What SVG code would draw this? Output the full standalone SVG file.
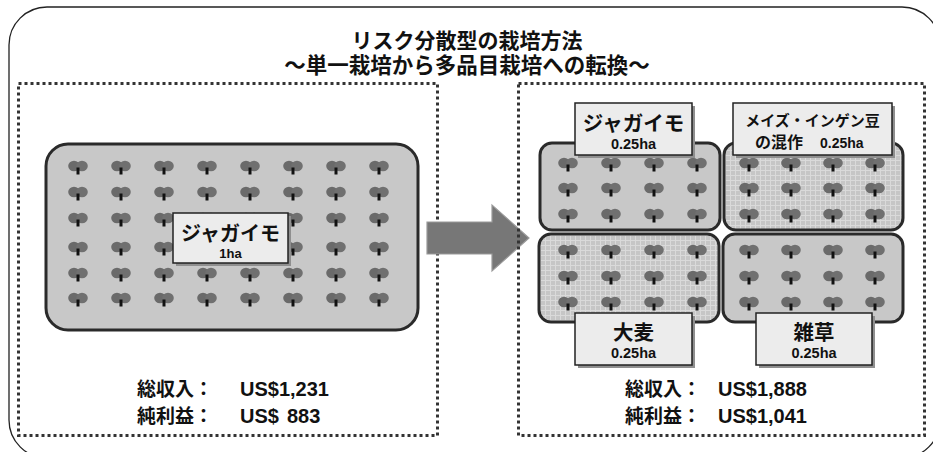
<svg xmlns="http://www.w3.org/2000/svg" width="933" height="452" viewBox="0 0 933 452">
  <style>
    .frame { fill: #ffffff; stroke: #222; stroke-width: 1.3; }
    .dotted { fill: none; stroke: #333; stroke-width: 3; stroke-dasharray: 3 3; }
    .field { fill: #c8c8c8; stroke: #2a2a2a; stroke-width: 3; }
    .field-grid { fill: url(#grid); stroke: #2a2a2a; stroke-width: 3; }
    .tag { fill: #ececec; stroke: #222; stroke-width: 1.5; }
    .tag-shadow { fill: #8f8f8f; }
    .jp { font-family: "Noto Sans CJK JP", "Liberation Sans", sans-serif; font-weight: 700; fill: #111; }
    .lat { font-family: "Liberation Sans", "Noto Sans CJK JP", sans-serif; font-weight: 700; fill: #111; }
    .mid { text-anchor: middle; }
  </style>
  <defs>
    <!-- lighter mesh used on the mixed-crop and barley plots -->
    <pattern id="grid" width="5" height="5" patternUnits="userSpaceOnUse">
      <rect width="5" height="5" fill="#c6c6c6"/>
      <path d="M0 0.5H5M0.5 0V5" stroke="#dadada" stroke-width="1"/>
    </pattern>
    <!-- one plant: two-lobed leaf with a dark stem -->
    <g id="plant">
      <ellipse cx="-4" cy="0" rx="5.8" ry="5.2" fill="#6a6a6a"/>
      <ellipse cx="4" cy="0" rx="5.8" ry="5.2" fill="#707070"/>
      <rect x="-1.5" y="1.5" width="3" height="7" fill="#111"/>
    </g>
  </defs>

  <!-- outer rounded frame -->
  <rect class="frame" x="9" y="7" width="931" height="451" rx="38"/>

  <!-- heading -->
  <g id="title">
    <text class="jp mid" x="467" y="48" font-size="21">リスク分散型の栽培方法</text>
    <text class="jp mid" x="467" y="73" font-size="21.5">～単一栽培から多品目栽培への転換～</text>
  </g>

  <!-- before: single crop -->
  <g id="before">
    <rect class="dotted" x="18.5" y="83.5" width="419" height="352"/>
    <g id="field-single">
      <rect class="field" x="46" y="144" width="372" height="186" rx="22"/>
      <g id="plants-single">
        <use href="#plant" x="78" y="166"/><use href="#plant" x="121" y="166"/><use href="#plant" x="164" y="166"/><use href="#plant" x="207" y="166"/><use href="#plant" x="250" y="166"/><use href="#plant" x="293" y="166"/><use href="#plant" x="336" y="166"/><use href="#plant" x="379" y="166"/>
        <use href="#plant" x="78" y="192"/><use href="#plant" x="121" y="192"/><use href="#plant" x="164" y="192"/><use href="#plant" x="207" y="192"/><use href="#plant" x="250" y="192"/><use href="#plant" x="293" y="192"/><use href="#plant" x="336" y="192"/><use href="#plant" x="379" y="192"/>
        <use href="#plant" x="78" y="218"/><use href="#plant" x="121" y="218"/><use href="#plant" x="164" y="218"/><use href="#plant" x="207" y="218"/><use href="#plant" x="250" y="218"/><use href="#plant" x="293" y="218"/><use href="#plant" x="336" y="218"/><use href="#plant" x="379" y="218"/>
        <use href="#plant" x="78" y="247"/><use href="#plant" x="121" y="247"/><use href="#plant" x="164" y="247"/><use href="#plant" x="207" y="247"/><use href="#plant" x="250" y="247"/><use href="#plant" x="293" y="247"/><use href="#plant" x="336" y="247"/><use href="#plant" x="379" y="247"/>
        <use href="#plant" x="78" y="273"/><use href="#plant" x="121" y="273"/><use href="#plant" x="164" y="273"/><use href="#plant" x="207" y="273"/><use href="#plant" x="250" y="273"/><use href="#plant" x="293" y="273"/><use href="#plant" x="336" y="273"/><use href="#plant" x="379" y="273"/>
        <use href="#plant" x="78" y="298"/><use href="#plant" x="121" y="298"/><use href="#plant" x="164" y="298"/><use href="#plant" x="207" y="298"/><use href="#plant" x="250" y="298"/><use href="#plant" x="293" y="298"/><use href="#plant" x="336" y="298"/><use href="#plant" x="379" y="298"/>
      </g>
      <g id="tag-single">
        <rect class="tag-shadow" x="176" y="216" width="115" height="50"/>
        <rect class="tag" x="173" y="213" width="115" height="50"/>
        <text class="jp mid" x="230.5" y="241" font-size="20">ジャガイモ</text>
        <text class="lat mid" x="230.5" y="258" font-size="13">1ha</text>
      </g>
    </g>
    <g id="totals-single">
      <text x="137" y="396" font-size="19"><tspan class="jp">総収入：</tspan><tspan class="lat" x="240" font-size="20">US$1,231</tspan></text>
      <text x="137" y="423" font-size="19"><tspan class="jp">純利益：</tspan><tspan class="lat" x="240" font-size="20">US$</tspan><tspan class="lat" x="287" font-size="20">883</tspan></text>
    </g>
  </g>

  <!-- transition arrow -->
  <g id="connectors">
    <path d="M427 222H492V205L529 238L492 271V254H427Z" fill="#777" stroke="#9a9a9a" stroke-width="1.2"/>
  </g>

  <!-- after: four plots -->
  <g id="after">
    <rect class="dotted" x="518.5" y="83.5" width="406" height="352"/>

    <g id="plot-potato">
      <rect class="field" x="540" y="143" width="180" height="87" rx="12"/>
      <use href="#plant" x="568" y="163"/><use href="#plant" x="611" y="163"/><use href="#plant" x="654" y="163"/><use href="#plant" x="697" y="163"/>
      <use href="#plant" x="568" y="188"/><use href="#plant" x="611" y="188"/><use href="#plant" x="654" y="188"/><use href="#plant" x="697" y="188"/>
      <use href="#plant" x="568" y="214"/><use href="#plant" x="611" y="214"/><use href="#plant" x="654" y="214"/><use href="#plant" x="697" y="214"/>
    </g>

    <g id="plot-maize-bean">
      <rect class="field-grid" x="724" y="143" width="179" height="87" rx="12"/>
      <use href="#plant" x="749" y="163"/><use href="#plant" x="791" y="163"/><use href="#plant" x="833" y="163"/><use href="#plant" x="875" y="163"/>
      <use href="#plant" x="749" y="188"/><use href="#plant" x="791" y="188"/><use href="#plant" x="833" y="188"/><use href="#plant" x="875" y="188"/>
      <use href="#plant" x="749" y="214"/><use href="#plant" x="791" y="214"/><use href="#plant" x="833" y="214"/><use href="#plant" x="875" y="214"/>
    </g>

    <g id="plot-barley">
      <rect class="field-grid" x="539" y="234" width="180" height="88" rx="12"/>
      <use href="#plant" x="568" y="250"/><use href="#plant" x="611" y="250"/><use href="#plant" x="654" y="250"/><use href="#plant" x="697" y="250"/>
      <use href="#plant" x="568" y="276"/><use href="#plant" x="611" y="276"/><use href="#plant" x="654" y="276"/><use href="#plant" x="697" y="276"/>
      <use href="#plant" x="568" y="302"/><use href="#plant" x="611" y="302"/><use href="#plant" x="654" y="302"/><use href="#plant" x="697" y="302"/>
    </g>

    <g id="plot-weeds">
      <rect class="field" x="723" y="234" width="180" height="88" rx="12"/>
      <use href="#plant" x="749" y="250"/><use href="#plant" x="791" y="250"/><use href="#plant" x="833" y="250"/><use href="#plant" x="875" y="250"/>
      <use href="#plant" x="749" y="276"/><use href="#plant" x="791" y="276"/><use href="#plant" x="833" y="276"/><use href="#plant" x="875" y="276"/>
      <use href="#plant" x="749" y="302"/><use href="#plant" x="791" y="302"/><use href="#plant" x="833" y="302"/><use href="#plant" x="875" y="302"/>
    </g>

    <g id="tag-potato">
      <rect class="tag-shadow" x="578" y="106" width="117" height="52"/>
      <rect class="tag" x="575" y="103" width="117" height="52"/>
      <text class="jp mid" x="633.5" y="131" font-size="20.5">ジャガイモ</text>
      <text class="lat mid" x="633.5" y="149" font-size="14.5">0.25ha</text>
    </g>

    <g id="tag-maize-bean">
      <rect class="tag-shadow" x="736" y="106" width="159" height="52"/>
      <rect class="tag" x="733" y="103" width="159" height="52"/>
      <text class="jp mid" x="812.5" y="126" font-size="15">メイズ・インゲン豆</text>
      <text x="755" y="148"><tspan class="jp" font-size="16">の混作</tspan><tspan class="lat" x="820" font-size="14">0.25ha</tspan></text>
    </g>

    <g id="tag-barley">
      <rect class="tag-shadow" x="578" y="316" width="117" height="52"/>
      <rect class="tag" x="575" y="313" width="117" height="52"/>
      <text class="jp mid" x="633.5" y="340" font-size="20.5">大麦</text>
      <text class="lat mid" x="633.5" y="358" font-size="14.5">0.25ha</text>
    </g>

    <g id="tag-weeds">
      <rect class="tag-shadow" x="759" y="316" width="116" height="52"/>
      <rect class="tag" x="756" y="313" width="116" height="52"/>
      <text class="jp mid" x="814" y="340" font-size="20.5">雑草</text>
      <text class="lat mid" x="814" y="358" font-size="14.5">0.25ha</text>
    </g>

    <g id="totals-mixed">
      <text x="625" y="396" font-size="19"><tspan class="jp">総収入：</tspan><tspan class="lat" x="718" font-size="20">US$1,888</tspan></text>
      <text x="625" y="423" font-size="19"><tspan class="jp">純利益：</tspan><tspan class="lat" x="718" font-size="20">US$1,041</tspan></text>
    </g>
  </g>
</svg>
